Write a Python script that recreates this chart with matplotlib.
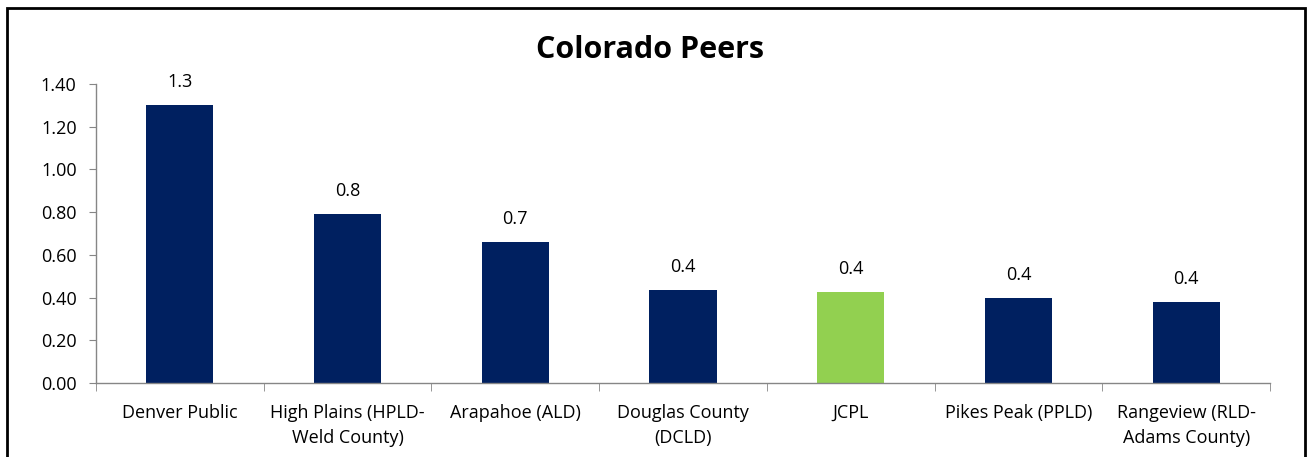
import numpy as np
import matplotlib.pyplot as plt
from matplotlib.patches import Rectangle

# library peer values
libraries = ["Denver Public", "High Plains (HPLD-\nWeld County)", "Arapahoe (ALD)",
             "Douglas County\n(DCLD)", "JCPL", "Pikes Peak (PPLD)",
             "Rangeview (RLD-\nAdams County)"]
values = [1.30, 0.79, 0.66, 0.435, 0.425, 0.40, 0.378]
highlight = "JCPL"

navy = "#002060"
green = "#92D050"
axis_grey = "#868686"

plt.rcParams['font.family'] = ['Open Sans', 'DejaVu Sans']
fs = 13

fig = plt.figure(figsize=(13.14, 4.57), dpi=100)
ax = fig.add_axes([96 / 1314, 1 - 383 / 457, (1270 - 96) / 1314, (383 - 84) / 457])

x = np.arange(len(libraries))
colors = [green if name == highlight else navy for name in libraries]
bars = ax.bar(x, values, width=0.4, color=colors)

for b, v in zip(bars, values):
    ax.annotate(f"{v:.1f}", (b.get_x() + b.get_width() / 2, v), xytext=(0, 10),
                textcoords="offset points", ha="center", va="bottom", fontsize=fs)

ax.set_xlim(-0.5, len(libraries) - 0.5)
ax.set_ylim(0, 1.4)
ax.set_yticks(np.arange(0, 1.41, 0.2))
ax.set_yticklabels([f"{t:.2f}" for t in np.arange(0, 1.41, 0.2)], fontsize=fs)

ax.set_xticks(x)
ax.set_xticklabels(libraries, fontsize=fs, linespacing=1.5)
ax.set_xticks(np.arange(-0.5, len(libraries), 1), minor=True)
ax.tick_params(axis="x", which="major", length=0, pad=15)
ax.tick_params(axis="x", which="minor", length=6, color=axis_grey, direction="out")
ax.tick_params(axis="y", length=5, color=axis_grey, direction="out", pad=9)

for s in ["top", "right"]:
    ax.spines[s].set_visible(False)
for s in ["left", "bottom"]:
    ax.spines[s].set_color(axis_grey)
    ax.spines[s].set_linewidth(1)

fig.text(650 / 1314, 1 - 50 / 457, "Colorado Peers", ha="center", va="center",
         fontsize=22, fontweight="bold")

# outer chart frame
fig.patches.append(Rectangle((7 / 1314, -0.05), (1305 - 7) / 1314, 1.05 - 8 / 457,
                             transform=fig.transFigure, fill=False,
                             edgecolor="black", linewidth=2))

fig.savefig("out.png", dpi=100)
